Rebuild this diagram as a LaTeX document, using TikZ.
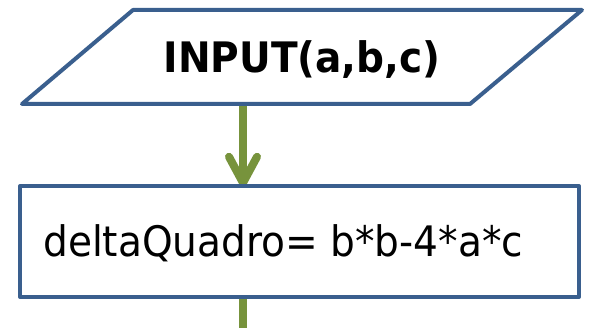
\documentclass[tikz,border=0pt]{standalone}
\usepackage{fontspec}
\setmainfont{DejaVu Sans}
\definecolor{bordblue}{HTML}{3A5F8E}
\definecolor{arrgreen}{HTML}{77933C}
\begin{document}
\begin{tikzpicture}[x=1pt,y=1pt,
  shapeborder/.style={draw=bordblue, line width=4pt, line join=round},
  flow/.style={draw=arrgreen, line width=8pt},
  barb/.style={draw=arrgreen, line width=8pt, line cap=round, line join=round},
  bigtext/.style={font=\fontsize{42}{50}\selectfont}]
\useasboundingbox (0,0) rectangle (589,328);
% input parallelogram
\coordinate (p1) at (133,318);
\coordinate (p2) at (582,318);
\coordinate (p3) at (470,224);
\coordinate (p4) at (22,224);
\coordinate (inpb) at (243,224);
% process box
\node[minimum width=559pt, minimum height=111pt, inner sep=0pt] (proc) at (299.5,86.5) {};
\coordinate (tip) at ([yshift=3pt]proc.north -| inpb);
\coordinate (outb) at (243,0);
% connectors
\draw[flow] (inpb) -- (tip);
\draw[barb] ([shift={(-14,26)}]tip) -- (tip) -- ([shift={(14,26)}]tip);
\draw[flow] (proc.south -| outb) -- (outb);
% shapes
\draw[shapeborder, fill=white] (p1) -- (p2) -- (p3) -- (p4) -- cycle;
\node[shapeborder, fill=white, minimum width=559pt, minimum height=111pt, inner sep=0pt] at (proc) {};
\node[anchor=base, bigtext, inner sep=0pt] (inp) at (302,255) {\scalebox{0.93}[1]{\bfseries INPUT(a,b,c)}};
\node[anchor=base west, bigtext, inner sep=0pt] (ptext) at (43,71) {\scalebox{0.93}[1]{deltaQuadro= b*b-4*a*c}};
\end{tikzpicture}
\end{document}
